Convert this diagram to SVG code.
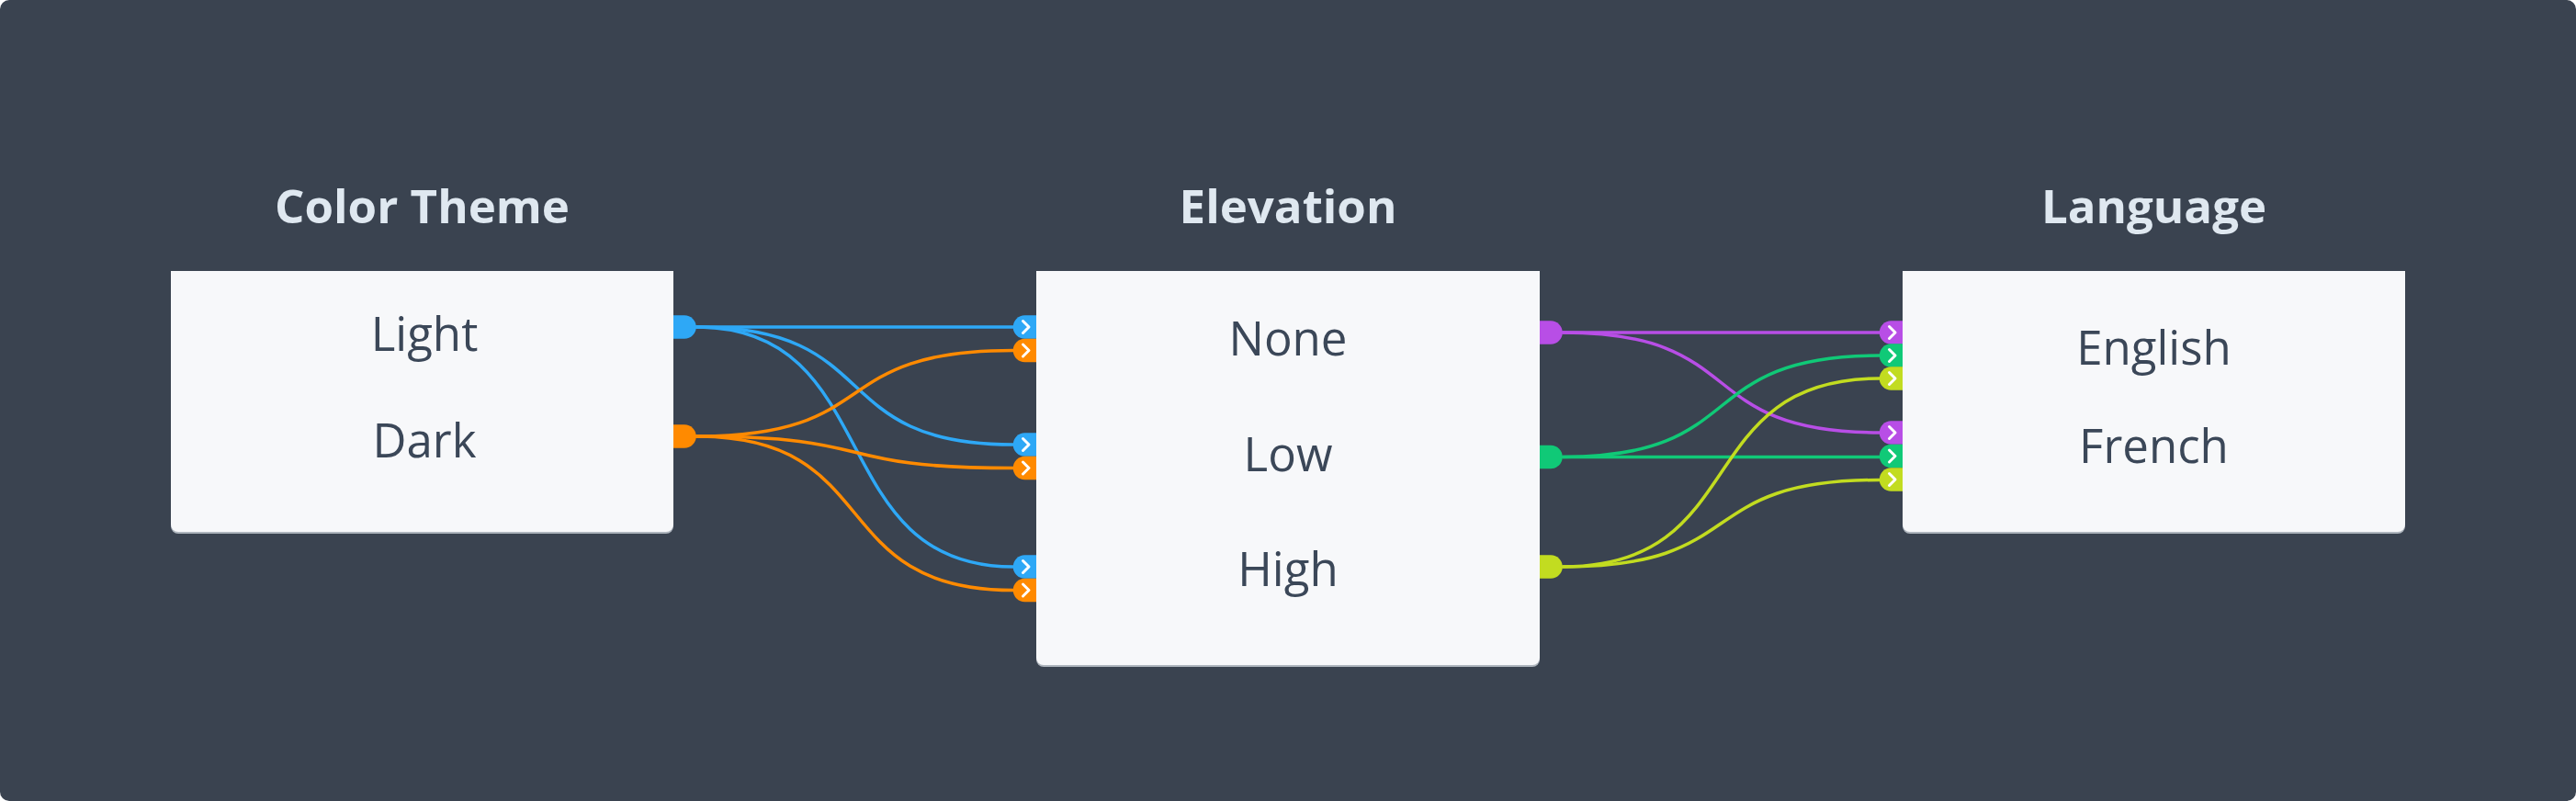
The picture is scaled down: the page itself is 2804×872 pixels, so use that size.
<svg xmlns="http://www.w3.org/2000/svg" xmlns:xlink="http://www.w3.org/1999/xlink" width="2804" height="872" viewBox="0 0 2804 872">
  <style>
    .title { font-family: "Open Sans", "Noto Sans", "Liberation Sans", sans-serif; font-weight: 700; font-size: 51px; fill: #dfe8f0; text-anchor: middle; }
    .item { font-family: "Open Sans", "Noto Sans", "Liberation Sans", sans-serif; font-weight: 400; font-size: 51px; fill: #3b4758; text-anchor: middle; }
    .box { fill: #f7f8fa; }
    .shadow { fill: #aeb5bd; }
    .wire { fill: none; stroke-width: 3.5; stroke-linecap: round; }
    .w-blue { stroke: #2ea8f6; }
    .w-orange { stroke: #ff8a00; }
    .w-purple { stroke: #b84ee6; }
    .w-green { stroke: #10c977; }
    .w-yellow { stroke: #c2dc20; }
    .p-blue { fill: #2ea8f6; }
    .p-orange { fill: #ff8a00; }
    .p-purple { fill: #b84ee6; }
    .p-green { fill: #10c977; }
    .p-yellow { fill: #c2dc20; }
  </style>
  <defs>
    <path id="outPort" d="M0,-12.75 h12 a12.75,12.75 0 0 1 0,25.5 h-12 z"/>
    <g id="inPort">
      <path d="M0,-12.75 h-12.5 a12.75,12.75 0 0 0 0,25.5 h12.5 z"/>
      <path d="M-14.5,-6.5 L-8,0 L-14.5,6.5" fill="none" stroke="#ffffff" stroke-width="3" stroke-linecap="round" stroke-linejoin="round"/>
    </g>
  </defs>

  <rect x="0" y="0" width="2804" height="872" rx="10" ry="10" fill="#3a4350"/>

  <g id="connectors">
    <path class="wire w-blue" d="M758,356 L1103,356"/>
    <path class="wire w-blue" d="M758,356 C965,356 896,484 1103,484"/>
    <path class="wire w-blue" d="M758,356 C965,356 896,617 1103,617"/>
    <path class="wire w-orange" d="M758,475 C965,475 896,381.5 1103,381.5"/>
    <path class="wire w-orange" d="M758,475 C965,475 896,509.5 1103,509.5"/>
    <path class="wire w-orange" d="M758,475 C965,475 896,642.5 1103,642.5"/>

    <path class="wire w-purple" d="M1701,362 L2046,362"/>
    <path class="wire w-purple" d="M1701,362 C1908,362 1839,471 2046,471"/>
    <path class="wire w-green" d="M1701,497.5 C1908,497.5 1839,387 2046,387"/>
    <path class="wire w-green" d="M1701,497.5 L2046,497.5"/>
    <path class="wire w-yellow" d="M1701,617 C1908,617 1839,412 2046,412"/>
    <path class="wire w-yellow" d="M1701,617 C1908,617 1839,522.5 2046,522.5"/>
  </g>

  <g id="node-color-theme">
    <text class="title" x="459.5" y="243">Color Theme</text>
    <path class="shadow" d="M186,297 H733 V573 a8,8 0 0 1 -8,8 H194 a8,8 0 0 1 -8,-8 Z"/>
    <path class="box" d="M186,295 H733 V571 a8,8 0 0 1 -8,8 H194 a8,8 0 0 1 -8,-8 Z"/>
    <text class="item" x="462" y="382">Light</text>
    <text class="item" x="462" y="498">Dark</text>
    <use xlink:href="#outPort" x="733" y="356" class="p-blue"/>
    <use xlink:href="#outPort" x="733" y="475" class="p-orange"/>
  </g>

  <g id="node-elevation">
    <text class="title" x="1402" y="243">Elevation</text>
    <path class="shadow" d="M1128,297 H1676 V718 a8,8 0 0 1 -8,8 H1136 a8,8 0 0 1 -8,-8 Z"/>
    <path class="box" d="M1128,295 H1676 V716 a8,8 0 0 1 -8,8 H1136 a8,8 0 0 1 -8,-8 Z"/>
    <text class="item" x="1402" y="387">None</text>
    <text class="item" x="1402" y="513">Low</text>
    <text class="item" x="1402" y="638">High</text>
    <use xlink:href="#inPort" x="1128" y="356" class="p-blue"/>
    <use xlink:href="#inPort" x="1128" y="381.5" class="p-orange"/>
    <use xlink:href="#inPort" x="1128" y="484" class="p-blue"/>
    <use xlink:href="#inPort" x="1128" y="509.5" class="p-orange"/>
    <use xlink:href="#inPort" x="1128" y="617" class="p-blue"/>
    <use xlink:href="#inPort" x="1128" y="642.5" class="p-orange"/>
    <use xlink:href="#outPort" x="1676" y="362" class="p-purple"/>
    <use xlink:href="#outPort" x="1676" y="497.5" class="p-green"/>
    <use xlink:href="#outPort" x="1676" y="617" class="p-yellow"/>
  </g>

  <g id="node-language">
    <text class="title" x="2344.5" y="243">Language</text>
    <path class="shadow" d="M2071,297 H2618 V573 a8,8 0 0 1 -8,8 H2079 a8,8 0 0 1 -8,-8 Z"/>
    <path class="box" d="M2071,295 H2618 V571 a8,8 0 0 1 -8,8 H2079 a8,8 0 0 1 -8,-8 Z"/>
    <text class="item" x="2344.5" y="397">English</text>
    <text class="item" x="2344.5" y="504">French</text>
    <use xlink:href="#inPort" x="2071" y="362" class="p-purple"/>
    <use xlink:href="#inPort" x="2071" y="387" class="p-green"/>
    <use xlink:href="#inPort" x="2071" y="412" class="p-yellow"/>
    <use xlink:href="#inPort" x="2071" y="471" class="p-purple"/>
    <use xlink:href="#inPort" x="2071" y="496.5" class="p-green"/>
    <use xlink:href="#inPort" x="2071" y="522" class="p-yellow"/>
  </g>
</svg>
